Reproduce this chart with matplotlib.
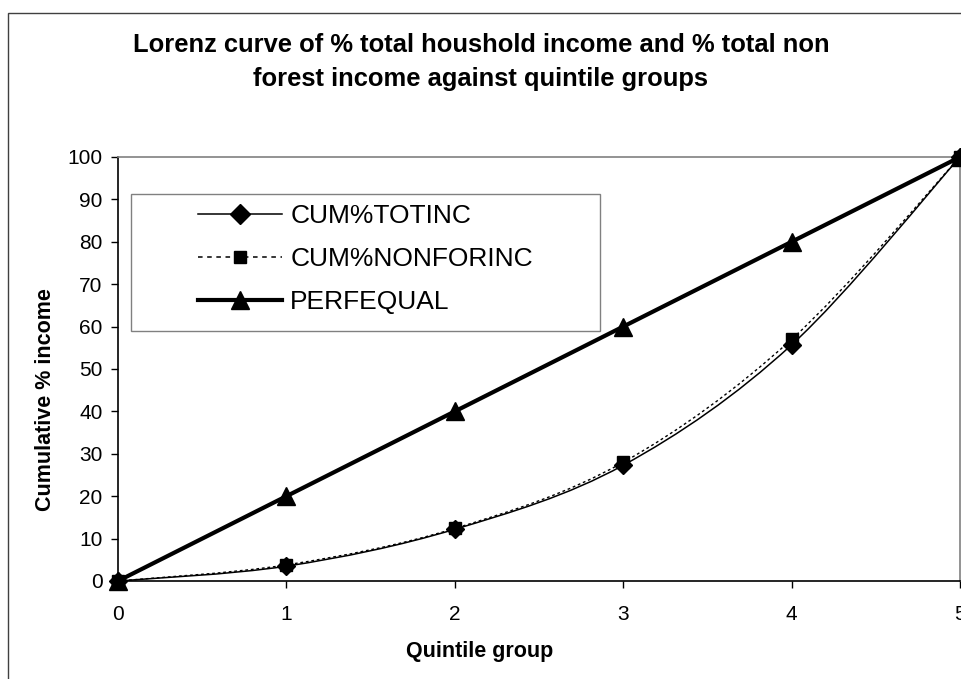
import matplotlib
matplotlib.use("Agg")
import matplotlib.pyplot as plt
import matplotlib.patches as patches
from matplotlib.path import Path
from matplotlib.lines import Line2D

plt.rcParams['font.family'] = ['Liberation Sans', 'DejaVu Sans']

# Lorenz curve data: cumulative % income by quintile group
quintiles = [0, 1, 2, 3, 4, 5]
cum_totinc = [0, 3.5, 12.2, 27.3, 55.7, 100]
cum_nonforinc = [0, 3.8, 12.4, 28.0, 57.0, 100]
perf_equal = [0, 20, 40, 60, 80, 100]
series_names = ['CUM%TOTINC', 'CUM%NONFORINC', 'PERFEQUAL']


def smooth_path(xs, ys):
    # cubic Bezier segments through the points (spreadsheet-style smoothed line)
    pts = list(zip(xs, ys))
    n = len(pts)
    verts = [pts[0]]
    codes = [Path.MOVETO]
    for i in range(n - 1):
        p0 = pts[i - 1] if i > 0 else pts[i]
        p1 = pts[i]
        p2 = pts[i + 1]
        p3 = pts[i + 2] if i + 2 < n else pts[i + 1]
        c1 = (p1[0] + (p2[0] - p0[0]) / 6, p1[1] + (p2[1] - p0[1]) / 6)
        c2 = (p2[0] - (p3[0] - p1[0]) / 6, p2[1] - (p3[1] - p1[1]) / 6)
        verts += [c1, c2, p2]
        codes += [Path.CURVE4] * 3
    return Path(verts, codes)


fig = plt.figure(figsize=(9.61, 6.79), dpi=100)
W, H = 961, 679

# outer chart border (runs off the right and bottom edges)
fig.patches.append(patches.Rectangle((8 / W, -0.1), 2, 1.1 - 13 / H,
                                     transform=fig.transFigure, fill=False,
                                     edgecolor='#404040', linewidth=1.0))

ax_l, ax_r, ax_t, ax_b = 118, 960, 157, 581
ax = fig.add_axes([ax_l / W, (H - ax_b) / H, (ax_r - ax_l) / W, (ax_b - ax_t) / H])
ax.set_xlim(0, 5)
ax.set_ylim(0, 100)


def to_ax(px, py):
    return (px - ax_l) / (ax_r - ax_l), (ax_b - py) / (ax_b - ax_t)


styles = [
    dict(marker='D', ms=9.5, lw=1.1, ls='-'),
    dict(marker='s', ms=8.5, lw=1.0, ls=(0, (2, 2))),
    dict(marker='^', ms=13, lw=3.0, ls='-'),
]
series = [cum_totinc, cum_nonforinc, perf_equal]

for vals, st in zip([cum_nonforinc, cum_totinc, perf_equal], [styles[1], styles[0], styles[2]]):
    ax.add_patch(patches.PathPatch(smooth_path(quintiles, vals), fill=False,
                                   edgecolor='black', linewidth=st['lw'],
                                   linestyle=st['ls'], clip_on=False, zorder=2))
for vals, st in zip(series, styles):
    ax.plot(quintiles, vals, linestyle='none', marker=st['marker'],
            markersize=st['ms'], color='black', clip_on=False, zorder=3)

ax.set_xticks(quintiles)
ax.set_yticks(range(0, 101, 10))
ax.tick_params(axis='both', direction='out', length=5, width=1, labelsize=15,
               color='black')
ax.tick_params(axis='y', pad=6)
ax.tick_params(axis='x', pad=12)
for side in ['top', 'right']:
    ax.spines[side].set_color('#808080')
    ax.spines[side].set_linewidth(1.2)
for side in ['left', 'bottom']:
    ax.spines[side].set_color('black')
    ax.spines[side].set_linewidth(1.2)

ax.set_xlabel('Quintile group', fontsize=15.5, fontweight='bold',
              ha='center', va='center')
ax.set_ylabel('Cumulative % income', fontsize=15.5, fontweight='bold',
              ha='center', va='center')
ax.xaxis.set_label_coords(*to_ax(480, 652))
ax.yaxis.set_label_coords(*to_ax(46, 400))

fig.text(481 / W, 1 - 45 / H,
         'Lorenz curve of % total houshold income and % total non',
         ha='center', va='center', fontsize=18.4, fontweight='bold')
fig.text(481 / W, 1 - 79 / H, 'forest income against quintile groups',
         ha='center', va='center', fontsize=18.4, fontweight='bold')

# legend box with the entries centred inside
box_l, box_r, box_t, box_b = 131, 600, 194, 331
bl = to_ax(box_l, box_b)
tr = to_ax(box_r, box_t)
ax.add_patch(patches.Rectangle(bl, tr[0] - bl[0], tr[1] - bl[1],
                               transform=ax.transAxes, fill=True,
                               facecolor='white', edgecolor='#808080',
                               linewidth=1.0, zorder=4))
handles = [
    Line2D([], [], color='black', lw=1.1, marker='D', ms=10),
    Line2D([], [], color='black', lw=1.1, ls=(0, (3, 3)), marker='s', ms=9),
    Line2D([], [], color='black', lw=3.0, marker='^', ms=13),
]
cx = (bl[0] + tr[0]) / 2
cy = to_ax(0, 259)[1]
leg = ax.legend(handles, series_names, loc='center', bbox_to_anchor=(cx, cy),
                frameon=False, fontsize=19, handlelength=3.2,
                handletextpad=0.3, labelspacing=0.72, borderpad=0)
leg.set_zorder(5)

fig.savefig('out.png', dpi=100)
